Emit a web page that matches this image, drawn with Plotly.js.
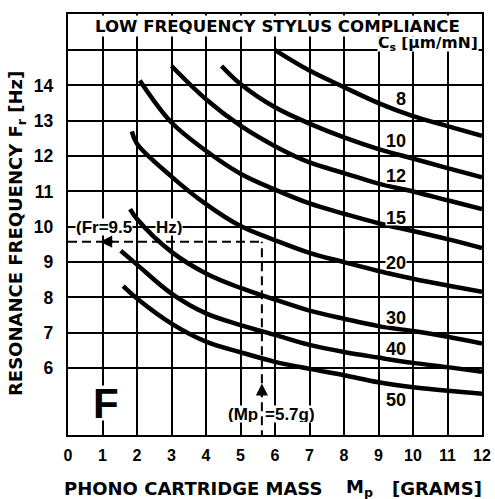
<!DOCTYPE html>
<html>
<head>
<meta charset="utf-8">
<script src="https://cdn.plot.ly/plotly-3.0.1.min.js"></script>
<style>html,body{margin:0;padding:0;background:#fff;}#chart{width:495px;height:499px;}</style>
</head>
<body>
<div id="chart"></div>
<script>
// ---- data ----
const compliance = ['8','10','12','15','20','30','40','50'];
const massC8  = [6.0, 7, 8, 9, 10, 11, 12];
const freqC8  = [15.0, 14.42, 13.95, 13.5, 13.13, 12.85, 12.57];
const massC10 = [4.45, 5, 6, 7, 8, 9, 10, 11, 12];
const freqC10 = [14.55, 14.04, 13.38, 12.92, 12.53, 12.2, 11.93, 11.66, 11.4];
const massC12 = [3.0, 4, 5, 6, 7, 8, 9, 10, 11, 12];
const freqC12 = [14.55, 13.61, 12.86, 12.28, 11.82, 11.52, 11.22, 11.0, 10.75, 10.5];
const massC15 = [2.08, 3, 4, 5, 6, 7, 8, 9, 10, 11, 12];
const freqC15 = [14.14, 12.95, 12.15, 11.5, 11.05, 10.66, 10.37, 10.1, 9.88, 9.65, 9.4];
const massC20 = [1.85, 2, 3, 4, 5, 6, 7, 8, 9, 10, 11, 12];
const freqC20 = [12.7, 12.35, 11.42, 10.64, 10.02, 9.62, 9.26, 9.0, 8.75, 8.53, 8.34, 8.16];
const massC30 = [1.8, 2, 3, 4, 5, 6, 7, 8, 9, 10, 11, 12];
const freqC30 = [10.5, 10.22, 9.29, 8.68, 8.27, 7.94, 7.63, 7.4, 7.19, 7.05, 6.89, 6.7];
const massC40 = [1.53, 2, 3, 4, 5, 6, 7, 8, 9, 10, 11, 12];
const freqC40 = [9.32, 8.93, 8.11, 7.55, 7.22, 6.94, 6.66, 6.46, 6.3, 6.15, 6.03, 5.9];
const massC50 = [1.6, 2, 3, 4, 5, 6, 7, 8, 9, 10, 11, 12];
const freqC50 = [8.32, 7.97, 7.26, 6.75, 6.45, 6.18, 5.98, 5.8, 5.6, 5.46, 5.36, 5.28];
const labelFreq = [13.61, 12.43, 11.43, 10.24, 8.98, 7.43, 6.55, 5.1];
const xTicks = [0,1,2,3,4,5,6,7,8,9,10,11,12];
const yTicks = [6,7,8,9,10,11,12,13,14,15];
const yTickText = ['6','7','8','9','10','11','12','13','14',''];
const exampleMass = 5.62;   // drawn position of Mp = 5.7 g line
const exampleFreq = 9.58;   // drawn position of Fr = 9.5 Hz line

const masses = [massC8, massC10, massC12, massC15, massC20, massC30, massC40, massC50];
const freqs  = [freqC8, freqC10, freqC12, freqC15, freqC20, freqC30, freqC40, freqC50];

const yMin = 4.11, yMax = 16.02;

const traces = masses.map((m, i) => ({
  x: m, y: freqs[i], type: 'scatter', mode: 'lines',
  line: {color: '#000', width: 4.5, shape: 'spline', smoothing: 1},
  name: compliance[i], hoverinfo: 'skip'
}));
// dashed example lines
traces.push({
  x: [0, exampleMass], y: [exampleFreq, exampleFreq], type: 'scatter', mode: 'lines',
  line: {color: '#000', width: 2, dash: '9px,5px'}, hoverinfo: 'skip', cliponaxis: false
});
traces.push({
  x: [exampleMass, exampleMass], y: [yMin - 0.12, exampleFreq], type: 'scatter', mode: 'lines',
  line: {color: '#000', width: 2, dash: '9px,5px'}, hoverinfo: 'skip', cliponaxis: false
});

const bold = (size, fam) => ({family: fam || 'Liberation Sans, Arial, sans-serif', size: size, color: '#000', weight: 'bold'});
const wide = 'DejaVu Sans, sans-serif';

const annotations = [];
compliance.forEach((c, i) => {
  annotations.push({
    x: 9.82, y: labelFreq[i], xref: 'x', yref: 'y', text: c, showarrow: false,
    xanchor: 'right', yanchor: 'middle', font: bold(18), bgcolor: '#fff', borderpad: 0, height: 14
  });
});
annotations.push(
  {x: 0.506, y: (435-15)/421, xref: 'paper', yref: 'paper', text: 'LOW FREQUENCY STYLUS COMPLIANCE',
   showarrow: false, xanchor: 'center', yanchor: 'top', valign: 'middle', font: bold(16.6, wide),
   bgcolor: '#fff', borderpad: 0, height: 20},
  {x: (479-68)/414, y: (435-36)/421, xref: 'paper', yref: 'paper', text: 'C<sub>s</sub> [µm/mN]',
   showarrow: false, xanchor: 'right', yanchor: 'top', valign: 'middle', font: bold(15.5, wide),
   bgcolor: '#fff', borderpad: 0, height: 14},
  {x: (17-68)/414, y: (435-234)/421, xref: 'paper', yref: 'paper', text: 'RESONANCE FREQUENCY F<sub>r</sub> [Hz]',
   showarrow: false, textangle: -90, xanchor: 'center', yanchor: 'middle', font: bold(18, wide)},
  {x: (62-68)/414, y: (435-488)/421, xref: 'paper', yref: 'paper', text: 'PHONO CARTRIDGE MASS',
   showarrow: false, xanchor: 'left', yanchor: 'middle', font: bold(18, wide)},
  {x: (344-68)/414, y: (435-488)/421, xref: 'paper', yref: 'paper', text: 'M<sub>p</sub>',
   showarrow: false, xanchor: 'left', yanchor: 'middle', font: bold(18, wide)},
  {x: (437-68)/414, y: (435-488)/421, xref: 'paper', yref: 'paper', text: '[GRAMS]',
   showarrow: false, xanchor: 'center', yanchor: 'middle', font: bold(18, wide)},
  {x: 1.1, y: 5.01, xref: 'x', yref: 'y', text: 'F', showarrow: false,
   xanchor: 'center', yanchor: 'middle', font: bold(42), bgcolor: '#fff', borderpad: 0, height: 34},
  {x: (75-68)/34.5, y: 10.0, xref: 'x', yref: 'y', text: '(Fr=9.5', showarrow: false,
   xanchor: 'left', yanchor: 'middle', font: bold(17), bgcolor: '#fff', borderpad: 0, height: 16},
  {x: (155-68)/34.5, y: 10.0, xref: 'x', yref: 'y', text: 'Hz)', showarrow: false,
   xanchor: 'left', yanchor: 'middle', font: bold(17), bgcolor: '#fff', borderpad: 0, height: 16},
  {x: (259-68)/34.5, y: 4.7, xref: 'x', yref: 'y', text: '(Mp', showarrow: false,
   xanchor: 'right', yanchor: 'middle', font: bold(17), bgcolor: '#fff', borderpad: 0, height: 16},
  {x: (264-68)/34.5, y: 4.7, xref: 'x', yref: 'y', text: '=5.7g)', showarrow: false,
   xanchor: 'left', yanchor: 'middle', font: bold(17), bgcolor: '#fff', borderpad: 0, height: 16},
  // arrows
  {x: 0.93, y: exampleFreq, ax: 1.35, ay: exampleFreq, xref: 'x', yref: 'y', axref: 'x', ayref: 'y',
   text: '', showarrow: true, arrowhead: 2, arrowsize: 1.1, arrowwidth: 2.2, arrowcolor: '#000', standoff: 0},
  {x: exampleMass, y: 5.57, ax: exampleMass, ay: 5.15, xref: 'x', yref: 'y', axref: 'x', ayref: 'y',
   text: '', showarrow: true, arrowhead: 2, arrowsize: 1.1, arrowwidth: 2.2, arrowcolor: '#000', standoff: 0}
);

const layout = {
  width: 495, height: 499,
  margin: {l: 68, r: 13, t: 14, b: 64},
  paper_bgcolor: '#fff', plot_bgcolor: '#fff',
  showlegend: false,
  xaxis: {
    range: [0, 12], tickvals: xTicks, ticktext: xTicks.map(String),
    showgrid: true, gridcolor: '#000', gridwidth: 2, zeroline: false,
    showline: true, mirror: true, linecolor: '#000', linewidth: 2.2,
    ticks: '', ticklabelstandoff: 5, tickfont: bold(16), fixedrange: true
  },
  yaxis: {
    range: [yMin, yMax], tickvals: yTicks, ticktext: yTickText,
    showgrid: true, gridcolor: '#000', gridwidth: 2, zeroline: false,
    showline: true, mirror: true, linecolor: '#000', linewidth: 2.2,
    ticks: '', ticklabelstandoff: 9, tickfont: bold(17.5), fixedrange: true
  },
  annotations: annotations
};

Plotly.newPlot('chart', traces, layout, {staticPlot: true, displayModeBar: false});
</script>
</body>
</html>
